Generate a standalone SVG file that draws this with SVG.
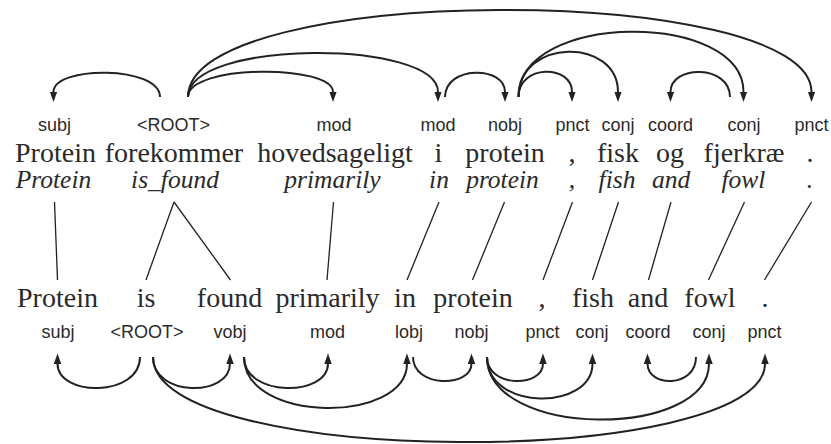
<svg xmlns="http://www.w3.org/2000/svg" width="831" height="444" viewBox="0 0 831 444">
<style>
.w{font-family:"Times New Roman",Times,"Liberation Serif",serif;font-size:28px;fill:#2a2a2a;text-anchor:middle}
.g{font-family:"Times New Roman",Times,"Liberation Serif",serif;font-size:25.5px;font-style:italic;fill:#2a2a2a;text-anchor:middle}
.l{font-family:"Liberation Sans",Arial,sans-serif;font-size:18px;fill:#2a2a2a;text-anchor:middle}
.arc{fill:none;stroke:#222;stroke-width:2}
.al{fill:none;stroke:#222;stroke-width:1.3}
</style>
<defs>
<marker id="ah" markerUnits="userSpaceOnUse" markerWidth="11" markerHeight="8" refX="0.5" refY="3.75" orient="auto">
<path d="M0,0 L10.5,3.75 L0,7.5 z" fill="#222"/>
</marker>
</defs>
<g id="da-tokens">
<g id="da1"><text class="l" x="54.5" y="131">subj</text><text class="w" x="55.5" y="161.5">Protein</text><text class="g" x="53.5" y="188">Protein</text></g>
<g id="da2"><text class="l" x="173.5" y="131">&lt;ROOT&gt;</text><text class="w" x="174" y="161.5">forekommer</text><text class="g" x="175" y="188">is_found</text></g>
<g id="da3"><text class="l" x="334" y="131">mod</text><text class="w" x="335" y="161.5">hovedsageligt</text><text class="g" x="332.5" y="188">primarily</text></g>
<g id="da4"><text class="l" x="438" y="131">mod</text><text class="w" x="438.5" y="161.5">i</text><text class="g" x="439" y="188">in</text></g>
<g id="da5"><text class="l" x="505" y="131">nobj</text><text class="w" x="505" y="161.5">protein</text><text class="g" x="502.5" y="188">protein</text></g>
<g id="da6"><text class="l" x="572.5" y="131">pnct</text><text class="w" x="572" y="161.5">,</text><text class="g" x="572" y="188">,</text></g>
<g id="da7"><text class="l" x="618" y="131">conj</text><text class="w" x="618" y="161.5">fisk</text><text class="g" x="617" y="188">fish</text></g>
<g id="da8"><text class="l" x="670.5" y="131">coord</text><text class="w" x="670" y="161.5">og</text><text class="g" x="671" y="188">and</text></g>
<g id="da9"><text class="l" x="744" y="131">conj</text><text class="w" x="744" y="161.5">fjerkræ</text><text class="g" x="743.5" y="188">fowl</text></g>
<g id="da10"><text class="l" x="811.5" y="131">pnct</text><text class="w" x="810" y="161.5">.</text><text class="g" x="810" y="188">.</text></g>
</g>
<g id="en-tokens">
<g id="en1"><text class="w" x="57.5" y="306.5">Protein</text><text class="l" x="58" y="338">subj</text></g>
<g id="en2"><text class="w" x="146" y="306.5">is</text><text class="l" x="147" y="338">&lt;ROOT&gt;</text></g>
<g id="en3"><text class="w" x="229.5" y="306.5">found</text><text class="l" x="230" y="338">vobj</text></g>
<g id="en4"><text class="w" x="327.5" y="306.5">primarily</text><text class="l" x="327.5" y="338">mod</text></g>
<g id="en5"><text class="w" x="405" y="306.5">in</text><text class="l" x="409" y="338">lobj</text></g>
<g id="en6"><text class="w" x="473" y="306.5">protein</text><text class="l" x="471.5" y="338">nobj</text></g>
<g id="en7"><text class="w" x="542" y="306.5">,</text><text class="l" x="542.5" y="338">pnct</text></g>
<g id="en8"><text class="w" x="593" y="306.5">fish</text><text class="l" x="592" y="338">conj</text></g>
<g id="en9"><text class="w" x="648" y="306.5">and</text><text class="l" x="648" y="338">coord</text></g>
<g id="en10"><text class="w" x="710" y="306.5">fowl</text><text class="l" x="709" y="338">conj</text></g>
<g id="en11"><text class="w" x="765" y="306.5">.</text><text class="l" x="764.5" y="338">pnct</text></g>
</g>
<g id="connectors">
<g id="top-arcs">
<path class="arc" marker-end="url(#ah)" d="M160,97 C160,65.4 53.5,65.4 53.5,92"/>
<path class="arc" marker-end="url(#ah)" d="M188,97 C188,64.1 333,64.1 333,92"/>
<path class="arc" marker-end="url(#ah)" d="M188,97 C188,39.2 438,39.2 438,92"/>
<path class="arc" marker-end="url(#ah)" d="M188,97 C188,-18.2 811.5,-18.2 811.5,92"/>
<path class="arc" marker-end="url(#ah)" d="M445,97 C445,65.4 505,65.4 505,92"/>
<path class="arc" marker-end="url(#ah)" d="M518.5,97 C518.5,64.1 572,64.1 572,92"/>
<path class="arc" marker-end="url(#ah)" d="M518.5,97 C518.5,37.4 618,37.4 618,92"/>
<path class="arc" marker-end="url(#ah)" d="M518.5,97 C518.5,10.8 743.5,10.8 743.5,92"/>
<path class="arc" marker-end="url(#ah)" d="M730,97 C730,64.5 670.5,64.5 670.5,92"/>
</g>
<g id="alignments">
<path class="al" d="M54.5,202 L57.5,280"/>
<path class="al" d="M174,202 L146,280 M174,202 L230.5,280"/>
<path class="al" d="M333.5,202 L327,280"/>
<path class="al" d="M439,202 L407,280"/>
<path class="al" d="M504.5,202 L472.5,280"/>
<path class="al" d="M572.5,202 L543,280"/>
<path class="al" d="M618.5,202 L592.5,280"/>
<path class="al" d="M671,202 L648.5,280"/>
<path class="al" d="M744.5,202 L708.5,280"/>
<path class="al" d="M811.5,202 L764.5,280"/>
</g>
<g id="bottom-arcs">
<path class="arc" marker-end="url(#ah)" d="M140,357 C140,397.3 57.5,397.3 57.5,363.5"/>
<path class="arc" marker-end="url(#ah)" d="M153,357 C153,397.3 230,397.3 230,363.5"/>
<path class="arc" marker-end="url(#ah)" d="M153,357 C153,469.3 765,469.3 765,363.5"/>
<path class="arc" marker-end="url(#ah)" d="M244,357 C244,397.3 328,397.3 328,363.5"/>
<path class="arc" marker-end="url(#ah)" d="M244,357 C244,423.9 407,423.9 407,363.5"/>
<path class="arc" marker-end="url(#ah)" d="M413,357 C413,387.9 471.5,387.9 471.5,363.5"/>
<path class="arc" marker-end="url(#ah)" d="M487,357 C487,387.9 543,387.9 543,363.5"/>
<path class="arc" marker-end="url(#ah)" d="M487,357 C487,411.2 592.5,411.2 592.5,363.5"/>
<path class="arc" marker-end="url(#ah)" d="M487,357 C487,439.3 709,439.3 709,363.5"/>
<path class="arc" marker-end="url(#ah)" d="M696,357 C696,387.9 647.5,387.9 647.5,363.5"/>
</g>
</g>
</svg>
